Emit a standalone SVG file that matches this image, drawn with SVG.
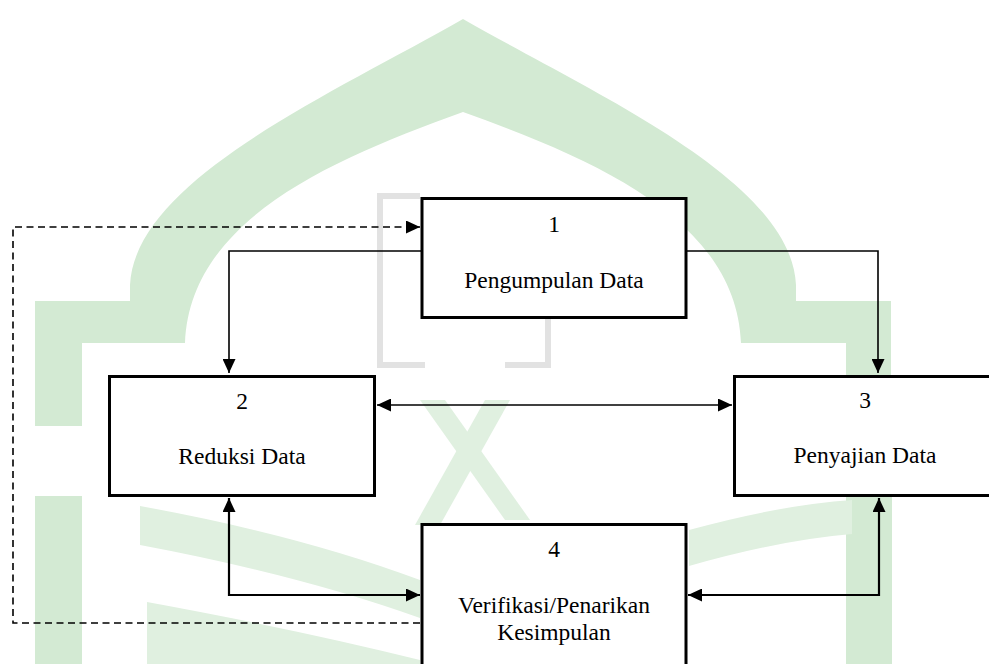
<svg xmlns="http://www.w3.org/2000/svg" width="989" height="664" viewBox="0 0 989 664">
<style>
.box{fill:#fff;stroke:#000;stroke-width:3}
.t{font-family:'Liberation Serif','Times New Roman','DejaVu Serif',serif;font-size:23.5px;fill:#000;text-anchor:middle}
.c{fill:none;stroke:#000;stroke-width:1.6}
.c2{fill:none;stroke:#000;stroke-width:2.2}
.d{fill:none;stroke:#000;stroke-width:1.6;stroke-dasharray:7 4.5}
.wm{fill:#d3ead3}
.wm2{fill:#e0f0e0}
</style>
<defs>
<marker id="ah" markerUnits="userSpaceOnUse" markerWidth="15" markerHeight="13" refX="14" refY="6.5" orient="auto-start-reverse" viewBox="0 0 15 13">
<path d="M0,0 L14,6.5 L0,13 Z" fill="#000"/>
</marker>
</defs>
<rect width="989" height="664" fill="#fff"/>
<g id="watermark">
<path class="wm" fill-rule="evenodd" d="M35 426 V301 H130 V285 C135 180 330 95 463 19 C596 95 791 180 796 285 V301 H891 V426 H846 V343 H741 C736 220 596 160 463 112 C330 160 190 220 185 343 H82 V426 Z"/>
<rect class="wm" x="35" y="496" width="47" height="168"/>
<rect class="wm" x="846" y="496" width="46" height="168"/>
<path class="wm2" d="M140 506 Q300 535 420 580 V618 Q300 575 140 545 Z"/>
<path class="wm2" d="M147 602 Q300 630 420 660 V664 H147 Z"/>
<path class="wm2" d="M689 530 Q780 505 852 500 V534 Q780 540 689 566 Z"/>
<path class="wm2" d="M420 400 L445 400 L530 520 L505 520 Z"/>
<path class="wm2" d="M485 400 L510 400 L440 525 L415 525 Z"/>
<path d="M420 196 H380 V365 H425 M505 365 H548 V318" fill="none" stroke="#e2e2e2" stroke-width="6"/>
</g>
<g id="connectors">
<path class="c" d="M422 251 H229 V373" marker-end="url(#ah)"/>
<path class="c" d="M686 251 H878 V373" marker-end="url(#ah)"/>
<path class="c" d="M377 405 H732" marker-start="url(#ah)" marker-end="url(#ah)"/>
<path class="c2" d="M229 498 V595 H420" marker-start="url(#ah)" marker-end="url(#ah)"/>
<path class="c2" d="M879 498 V595 H688" marker-start="url(#ah)" marker-end="url(#ah)"/>
<path class="d" d="M420 623 H13 V227 H420" marker-end="url(#ah)"/>
</g>
<g id="node1">
<rect class="box" x="422" y="198.5" width="264" height="119"/>
<text class="t" x="554" y="232" font-family="Liberation Serif">1</text>
<text class="t" x="554" y="288" font-family="Liberation Serif">Pengumpulan Data</text>
</g>
<g id="node2">
<rect class="box" x="109.5" y="376.5" width="265" height="119"/>
<text class="t" x="242" y="409" font-family="Liberation Serif">2</text>
<text class="t" x="242" y="464" font-family="Liberation Serif">Reduksi Data</text>
</g>
<g id="node3">
<rect class="box" x="734.5" y="376.5" width="265" height="119"/>
<text class="t" x="865" y="408" font-family="Liberation Serif">3</text>
<text class="t" x="865" y="463" font-family="Liberation Serif">Penyajian Data</text>
</g>
<g id="node4">
<rect class="box" x="422" y="524.5" width="264" height="160"/>
<text class="t" x="554" y="557" font-family="Liberation Serif">4</text>
<text class="t" x="554" y="613" font-family="Liberation Serif">Verifikasi/Penarikan</text>
<text class="t" x="554" y="640" font-family="Liberation Serif">Kesimpulan</text>
</g>
</svg>
